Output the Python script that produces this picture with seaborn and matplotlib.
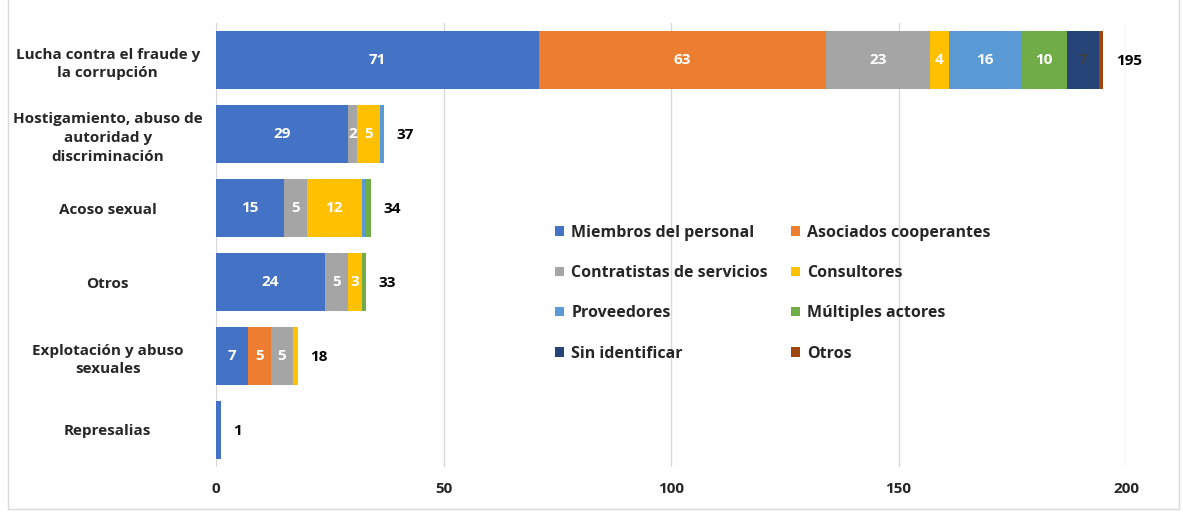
import numpy as np
import pandas as pd
import matplotlib
matplotlib.use("Agg")
import matplotlib.pyplot as plt
from matplotlib.patches import Patch, Rectangle
import seaborn as sns

categories = [
    "Lucha contra el fraude y\nla corrupción",
    "Hostigamiento, abuso de\nautoridad y\ndiscriminación",
    "Acoso sexual",
    "Otros",
    "Explotación y abuso\nsexuales",
    "Represalias",
]
series_names = [
    "Miembros del personal", "Asociados cooperantes",
    "Contratistas de servicios", "Consultores",
    "Proveedores", "Múltiples actores",
    "Sin identificar", "Otros",
]
miembros = [71, 29, 15, 24, 7, 1]
asociados = [63, 0, 0, 0, 5, 0]
contratistas = [23, 2, 5, 5, 5, 0]
consultores = [4, 5, 12, 3, 1, 0]
proveedores = [16, 1, 1, 0, 0, 0]
multiples = [10, 0, 1, 1, 0, 0]
sin_identificar = [7, 0, 0, 0, 0, 0]
otros = [1, 0, 0, 0, 0, 0]

colors = ["#4472C4", "#ED7D31", "#A5A5A5", "#FFC000",
          "#5B9BD5", "#70AD47", "#264478", "#9E480E"]

values = np.array([miembros, asociados, contratistas, consultores,
                   proveedores, multiples, sin_identificar, otros])
cum = values.cumsum(axis=0)
totals = cum[-1]

sns.set_style("white")
plt.rcParams['font.family'] = ['Open Sans', 'DejaVu Sans']
txt = "#262626"

fig = plt.figure(figsize=(11.83, 5.13), dpi=100)
ax = fig.add_axes([216 / 1183, 1 - 467 / 513, 910 / 1183, 444 / 513])

# stacked bars: draw cumulative totals from the last series to the first
for i in reversed(range(len(series_names))):
    df = pd.DataFrame({"cat": categories, "val": cum[i]})
    sns.barplot(data=df, x="val", y="cat", orient="h", color=colors[i],
                saturation=1, width=0.78, linewidth=0, ax=ax, zorder=2)

# segment labels
for i in range(len(series_names)):
    for j in range(len(categories)):
        v = values[i, j]
        if v >= 2:
            c = "#404040" if series_names[i] == "Sin identificar" else "white"
            ax.text(cum[i, j] - v / 2, j, str(v), ha="center", va="center",
                    color=c, fontsize=11, fontweight="bold", zorder=3)

# totals
for j, t in enumerate(totals):
    ax.annotate(str(t), (t, j), xytext=(9, -1), textcoords="offset points",
                ha="left", va="center", fontsize=11, fontweight="bold",
                color="black", annotation_clip=False)

ax.set_xlim(0, 200)
ax.set_ylim(len(categories) - 0.5, -0.5)
ax.set_xticks([0, 50, 100, 150, 200])
ax.grid(axis="x", color="#D9D9D9", linewidth=1, zorder=0)
ax.set_axisbelow(True)
for s in ax.spines.values():
    s.set_visible(False)
ax.set_xlabel("")
ax.set_ylabel("")
ax.tick_params(axis="both", length=0, labelsize=11, labelcolor=txt)
ax.tick_params(axis="x", pad=11)
ax.tick_params(axis="y", pad=78)
for lab in ax.get_yticklabels():
    lab.set_ha("center")
    lab.set_multialignment("center")
    lab.set_fontweight("bold")
    lab.set_linespacing(1.45)
for lab in ax.get_xticklabels():
    lab.set_fontweight("bold")

# legend filled row by row in two columns
order = [0, 2, 4, 6, 1, 3, 5, 7]
handles = [Patch(facecolor=colors[k], edgecolor="none") for k in order]
labels = [series_names[k] for k in order]
leg = ax.legend(handles, labels, ncol=2, loc="upper left",
                bbox_to_anchor=(0.357, 0.578), frameon=False,
                handlelength=0.55, handleheight=0.55, handletextpad=0.45,
                labelspacing=1.52, columnspacing=1.45,
                prop={"size": 11.5, "weight": "bold"})
for t in leg.get_texts():
    t.set_color(txt)

fig.patches.append(Rectangle((8 / 1183, 4 / 513), 1 - 12 / 1183, 1 - 2 / 513,
                             transform=fig.transFigure, fill=False,
                             edgecolor="#D9D9D9", linewidth=1))

fig.savefig("out.png", dpi=100)
